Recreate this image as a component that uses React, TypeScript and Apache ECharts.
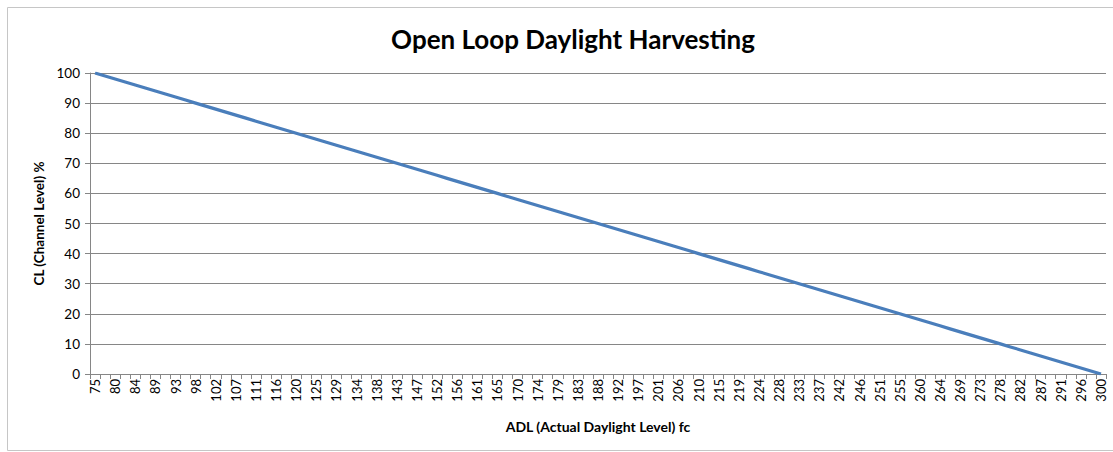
import React, { useEffect, useRef } from "react";
import * as echarts from "echarts";

// ADL (Actual Daylight Level) fc — category values
const adl: number[] = [
  75, 77.25, 79.5, 81.75, 84, 86.25, 88.5, 90.75, 93, 95.25,
  97.5, 99.75, 102, 104.25, 106.5, 108.75, 111, 113.25, 115.5, 117.75,
  120, 122.25, 124.5, 126.75, 129, 131.25, 133.5, 135.75, 138, 140.25,
  142.5, 144.75, 147, 149.25, 151.5, 153.75, 156, 158.25, 160.5, 162.75,
  165, 167.25, 169.5, 171.75, 174, 176.25, 178.5, 180.75, 183, 185.25,
  187.5, 189.75, 192, 194.25, 196.5, 198.75, 201, 203.25, 205.5, 207.75,
  210, 212.25, 214.5, 216.75, 219, 221.25, 223.5, 225.75, 228, 230.25,
  232.5, 234.75, 237, 239.25, 241.5, 243.75, 246, 248.25, 250.5, 252.75,
  255, 257.25, 259.5, 261.75, 264, 266.25, 268.5, 270.75, 273, 275.25,
  277.5, 279.75, 282, 284.25, 286.5, 288.75, 291, 293.25, 295.5, 297.75,
  300,
];

// CL (Channel Level) %
const cl: number[] = [
  100, 99, 98, 97, 96, 95, 94, 93, 92, 91,
  90, 89, 88, 87, 86, 85, 84, 83, 82, 81,
  80, 79, 78, 77, 76, 75, 74, 73, 72, 71,
  70, 69, 68, 67, 66, 65, 64, 63, 62, 61,
  60, 59, 58, 57, 56, 55, 54, 53, 52, 51,
  50, 49, 48, 47, 46, 45, 44, 43, 42, 41,
  40, 39, 38, 37, 36, 35, 34, 33, 32, 31,
  30, 29, 28, 27, 26, 25, 24, 23, 22, 21,
  20, 19, 18, 17, 16, 15, 14, 13, 12, 11,
  10, 9, 8, 7, 6, 5, 4, 3, 2, 1,
  0,
];

const yTicks = { min: 0, max: 100, interval: 10 };

const FONT = "Lato, 'Open Sans', sans-serif";

export default function App() {
  const ref = useRef<HTMLDivElement>(null);

  useEffect(() => {
    document.body.style.margin = "0";
    if (!ref.current) return;
    const chart = echarts.init(ref.current, undefined, { renderer: "svg" });
    chart.setOption({
      animation: false,
      backgroundColor: "#ffffff",
      textStyle: { fontFamily: FONT },
      title: {
        text: "Open Loop Daylight Harvesting",
        left: 568,
        top: 21,
        textAlign: "center",
        textStyle: { fontFamily: FONT, fontSize: 26, fontWeight: "bold", color: "#000" },
      },
      graphic: [
        {
          type: "rect",
          shape: { x: 7.5, y: 7.5, width: 1120, height: 443 },
          style: { fill: "none", stroke: "#c6c6c6", lineWidth: 1 },
          silent: true,
        },
      ],
      grid: { left: 90, right: 7, top: 73, bottom: 78 },
      xAxis: {
        type: "category",
        data: adl,
        boundaryGap: true,
        name: "ADL (Actual Daylight Level) fc",
        nameLocation: "middle",
        nameGap: 45,
        nameTextStyle: { fontFamily: FONT, fontSize: 14, fontWeight: "bold", color: "#000" },
        axisLine: { lineStyle: { color: "#868686", width: 1 } },
        axisTick: { show: true, interval: 0, length: 5, lineStyle: { color: "#868686" } },
        axisLabel: {
          interval: 1,
          rotate: 90,
          margin: 5,
          fontSize: 13,
          color: "#000",
          fontFamily: FONT,
          formatter: (v: string) => String(Math.round(Number(v))),
        },
        splitLine: { show: false },
      },
      yAxis: {
        type: "value",
        min: yTicks.min,
        max: yTicks.max,
        interval: yTicks.interval,
        name: "CL (Channel Level) %",
        nameLocation: "middle",
        nameGap: 44,
        nameRotate: 90,
        nameTextStyle: { fontFamily: FONT, fontSize: 13.5, fontWeight: "bold", color: "#000" },
        axisLine: { show: true, lineStyle: { color: "#868686", width: 1 } },
        axisTick: { show: true, length: 5, lineStyle: { color: "#868686" } },
        axisLabel: { fontSize: 13.5, color: "#000", margin: 10, fontFamily: FONT },
        splitLine: { show: true, lineStyle: { color: "#868686", width: 1 } },
      },
      series: [
        {
          type: "line",
          data: cl,
          showSymbol: false,
          symbol: "none",
          lineStyle: { color: "#4A7EBB", width: 3.2 },
          itemStyle: { color: "#4A7EBB" },
        },
      ],
    });
    return () => chart.dispose();
  }, []);

  return <div ref={ref} style={{ width: 1113, height: 452 }} />;
}
